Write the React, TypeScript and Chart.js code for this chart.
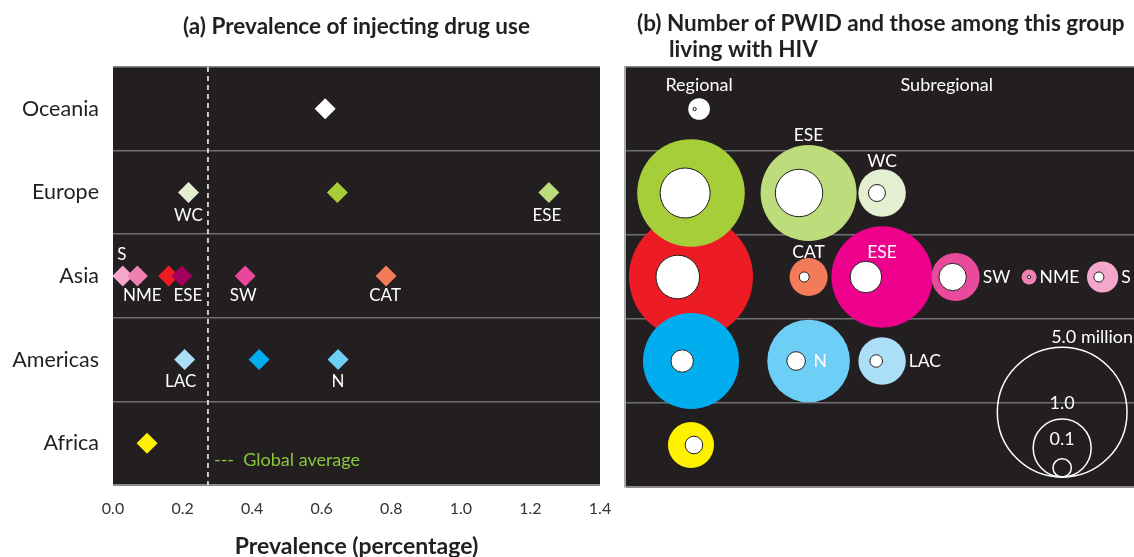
import React, { useEffect, useRef } from 'react';
import { Chart, registerables } from 'chart.js';

Chart.register(...registerables);

const FONT = 'Lato, "Open Sans", sans-serif';
const PANEL_BG = '#231f20';
const GRID_INNER = '#707072';
const GRID_EDGE = '#8a8a8c';
const TEXT_DARK = '#231f20';

// ---------- shared categories ----------
const REGIONS = ['Oceania', 'Europe', 'Asia', 'Americas', 'Africa'];

// ---------- panel (a): prevalence of injecting drug use ----------
const X_TICKS = [0, 0.2, 0.4, 0.6, 0.8, 1.0, 1.2, 1.4];
const GLOBAL_AVERAGE = 0.273;
const PREV_REGION = ['Oceania', 'Europe', 'Europe', 'Europe', 'Asia', 'Asia', 'Asia', 'Asia', 'Asia', 'Asia', 'Americas', 'Americas', 'Americas', 'Africa'];
const PREV_VALUE = [0.61, 0.217, 0.645, 1.253, 0.028, 0.07, 0.16, 0.198, 0.38, 0.785, 0.206, 0.42, 0.647, 0.098];
const PREV_LABEL = ['', 'WC', '', 'ESE', 'S', 'NME', '', 'ESE', 'SW', 'CAT', 'LAC', '', 'N', ''];
// styles / label layout (kept apart from the data)
const PREV_COLOR = ['#ffffff', '#e3efd0', '#a6ce39', '#bddc7c', '#f4a7cb', '#ef80b2', '#ed1c24', '#a3005e', '#e8489a', '#f47b5a', '#abdff8', '#00aeef', '#6dcff6', '#fff200'];
const PREV_LABEL_DX = [0, 0, 0, -2, -1, 5, 0, 6, -2, -1, -4, 0, 0, 0];
const PREV_LABEL_DY = [0, 23, 0, 23, -21, 20, 0, 20, 20, 20, 22, 0, 22, 0];

// ---------- panel (b): number of PWID and those living with HIV (millions) ----------
const PWID_REGION = ['Oceania', 'Europe', 'Europe', 'Europe', 'Asia', 'Asia', 'Asia', 'Asia', 'Asia', 'Asia', 'Americas', 'Americas', 'Americas', 'Africa'];
const PWID_LABEL = ['', '', 'ESE', 'WC', '', 'CAT', 'ESE', 'SW', 'NME', 'S', '', 'N', 'LAC', ''];
const PWID_TOTAL = [0.139, 3.44, 2.74, 0.67, 4.57, 0.43, 3.05, 0.69, 0.067, 0.29, 2.74, 2.03, 0.67, 0.63];
const PWID_HIV = [0.003, 0.743, 0.668, 0.086, 0.565, 0.03, 0.297, 0.223, 0.003, 0.03, 0.149, 0.103, 0.047, 0.092];
// column positions (0 = regional column, 1.6.. = subregional columns)
const PWID_X = [0.11, 0, 1.6, 2.6, 0, 1.6, 2.6, 3.6, 4.6, 5.6, 0, 1.6, 2.6, 0];
const HIV_X = [0.05, -0.08, 1.47, 2.53, -0.18, 1.54, 2.38, 3.56, 4.6, 5.55, -0.12, 1.43, 2.52, 0.04];
const PWID_COLOR = ['#ffffff', '#a6ce39', '#bddc7c', '#e3efd0', '#ed1c24', '#f47b5a', '#ec008c', '#ea4a9c', '#ef80b2', '#f4a7cb', '#00aeef', '#6dcff6', '#abdff8', '#fff200'];
// label layout: mode and offsets
const PWID_LABEL_MODE = ['', '', 'above', 'above', '', 'above', 'inside', 'right', 'right', 'right', '', 'inner', 'right', ''];
const PWID_LABEL_GAP = [0, 0, 10, 8, 0, 6, -25, 3, 3, 3, 0, 8, 3, 0];
const HEADERS = ['Regional', 'Subregional'];
const HEADER_X = [0.11, 3.48];
const LEGEND_VALUES = [5, 1, 0.1];
const LEGEND_LABELS = ['5.0 million', '1.0', '0.1'];
const LEGEND_X = 5.05;
const LEGEND_LABEL_DY = [-10, -16, -19];

const PX_PER_SQRT_MILLION = 29;
const radiusFor = (v: number) => PX_PER_SQRT_MILLION * Math.sqrt(v);

const gridColor = (ctx: any) => (ctx.index === 0 || ctx.index === undefined ? GRID_EDGE : GRID_INNER);
const gridWidth = (ctx: any) => (ctx.index === undefined ? 2 : 1.5);

const fillPanel = {
  id: 'fillPanel',
  beforeDraw(chart: any) {
    const { ctx, chartArea: a } = chart;
    ctx.save();
    ctx.fillStyle = PANEL_BG;
    ctx.fillRect(a.left, a.top, a.right - a.left, a.bottom - a.top);
    ctx.restore();
  },
};

const panelAExtras = {
  id: 'panelAExtras',
  beforeDatasetsDraw(chart: any) {
    const { ctx, chartArea: a, scales } = chart;
    const x = scales.x.getPixelForValue(GLOBAL_AVERAGE);
    ctx.save();
    ctx.strokeStyle = '#ffffff';
    ctx.lineWidth = 1.5;
    ctx.setLineDash([5, 4]);
    ctx.beginPath();
    ctx.moveTo(x, a.top);
    ctx.lineTo(x, a.bottom);
    ctx.stroke();
    ctx.setLineDash([]);
    ctx.fillStyle = '#8cc63f';
    ctx.font = `18px ${FONT}`;
    ctx.textAlign = 'left';
    ctx.textBaseline = 'middle';
    ctx.fillText('---  Global average', x + 6, a.bottom - 25);
    ctx.restore();
  },
  afterDatasetsDraw(chart: any) {
    const { ctx } = chart;
    const meta = chart.getDatasetMeta(0);
    ctx.save();
    ctx.fillStyle = '#ffffff';
    ctx.font = `17px ${FONT}`;
    ctx.textAlign = 'center';
    ctx.textBaseline = 'middle';
    PREV_LABEL.forEach((t, i) => {
      if (!t) return;
      const el = meta.data[i];
      ctx.fillText(t, el.x + PREV_LABEL_DX[i], el.y + PREV_LABEL_DY[i]);
    });
    ctx.restore();
  },
};

const panelBExtras = {
  id: 'panelBExtras',
  afterDraw(chart: any) {
    const { ctx, chartArea: a, scales } = chart;
    const xs = scales.x;
    const ys = scales.y;
    ctx.save();
    // title
    ctx.fillStyle = TEXT_DARK;
    ctx.font = `bold 22.5px ${FONT}`;
    ctx.textAlign = 'left';
    ctx.textBaseline = 'middle';
    ctx.fillText('(b) Number of PWID and those among this group', a.left + 12, 24);
    ctx.fillText('living with HIV', a.left + 44, 50);
    // headers
    ctx.fillStyle = '#ffffff';
    ctx.font = `18px ${FONT}`;
    ctx.textAlign = 'center';
    HEADERS.forEach((h, i) => ctx.fillText(h, xs.getPixelForValue(HEADER_X[i]), a.top + 18));
    // bubble labels
    ctx.font = `17.5px ${FONT}`;
    PWID_LABEL.forEach((t, i) => {
      if (!t) return;
      const cx = xs.getPixelForValue(PWID_X[i]);
      const cy = ys.getPixelForValue(REGIONS.indexOf(PWID_REGION[i]));
      const r = radiusFor(PWID_TOTAL[i]);
      const mode = PWID_LABEL_MODE[i];
      const g = PWID_LABEL_GAP[i];
      if (mode === 'above') {
        ctx.textAlign = 'center';
        ctx.fillText(t, cx, cy - r - g);
      } else if (mode === 'inside') {
        ctx.textAlign = 'center';
        ctx.fillText(t, cx, cy + g);
      } else if (mode === 'right') {
        ctx.textAlign = 'left';
        ctx.fillText(t, cx + r + g, cy);
      } else if (mode === 'inner') {
        const ix = xs.getPixelForValue(HIV_X[i]);
        ctx.textAlign = 'left';
        ctx.fillText(t, ix + radiusFor(PWID_HIV[i]) + g, cy);
      }
    });
    // size legend
    ctx.font = `18px ${FONT}`;
    const lx = xs.getPixelForValue(LEGEND_X);
    const base = a.bottom - 10;
    ctx.strokeStyle = '#ffffff';
    ctx.lineWidth = 1.5;
    LEGEND_VALUES.forEach((v, i) => {
      const r = radiusFor(v);
      ctx.beginPath();
      ctx.arc(lx, base - r, r, 0, Math.PI * 2);
      ctx.stroke();
      const top = base - 2 * r;
      if (i === 0) {
        ctx.textAlign = 'left';
        ctx.fillText(LEGEND_LABELS[i], lx - 11, top + LEGEND_LABEL_DY[i]);
      } else {
        ctx.textAlign = 'center';
        ctx.fillText(LEGEND_LABELS[i], lx, top + LEGEND_LABEL_DY[i]);
      }
    });
    ctx.restore();
  },
};

function PanelA() {
  const ref = useRef<HTMLCanvasElement>(null);
  useEffect(() => {
    const chart = new Chart(ref.current as HTMLCanvasElement, {
      type: 'scatter',
      data: {
        datasets: [
          {
            data: PREV_VALUE.map((v, i) => ({ x: v, y: PREV_REGION[i] })) as any,
            pointStyle: 'rectRot',
            pointRadius: 10.5,
            pointHoverRadius: 10.5,
            pointBackgroundColor: PREV_COLOR,
            pointBorderWidth: 0,
            borderWidth: 0,
          },
        ],
      },
      options: {
        responsive: false,
        animation: false,
        events: [],
        layout: { autoPadding: false, padding: { left: 0, right: 20, top: 0, bottom: 0 } },
        plugins: {
          legend: { display: false },
          tooltip: { enabled: false },
          title: {
            display: true,
            text: '(a) Prevalence of injecting drug use',
            color: TEXT_DARK,
            font: { family: FONT, size: 22.5, weight: 'bold' },
            padding: { top: 13, bottom: 27 },
            fullSize: false,
          },
        },
        scales: {
          x: {
            type: 'linear',
            min: X_TICKS[0],
            max: X_TICKS[X_TICKS.length - 1],
            afterBuildTicks: (s: any) => {
              s.ticks = X_TICKS.map((v) => ({ value: v }));
            },
            afterFit: (s: any) => {
              s.height = 72;
              s.paddingLeft = 0;
              s.paddingRight = 0;
            },
            ticks: {
              color: '#333333',
              font: { family: FONT, size: 16 },
              padding: 14,
              callback: (v: any) => Number(v).toFixed(1),
            },
            grid: { display: false, drawTicks: false },
            border: { display: false },
            title: {
              display: true,
              text: 'Prevalence (percentage)',
              color: TEXT_DARK,
              font: { family: FONT, size: 23, weight: 'bold', lineHeight: 0.9 },
              padding: { top: 0, bottom: 0 },
            },
          },
          y: {
            type: 'category',
            labels: REGIONS,
            offset: true,
            afterFit: (s: any) => {
              s.width = 113;
              s.paddingTop = 0;
              s.paddingBottom = 0;
            },
            ticks: { color: TEXT_DARK, font: { family: FONT, size: 21.5 }, padding: 14 },
            grid: { offset: true, drawTicks: false, color: gridColor, lineWidth: gridWidth },
            border: { display: false },
          },
        },
      } as any,
      plugins: [fillPanel, panelAExtras],
    });
    return () => chart.destroy();
  }, []);
  return <canvas ref={ref} width={620} height={557} style={{ position: 'absolute', left: 0, top: 0 }} />;
}

function PanelB() {
  const ref = useRef<HTMLCanvasElement>(null);
  useEffect(() => {
    // larger bubbles first so that smaller ones sit on top
    const order = PWID_TOTAL.map((_, i) => i).sort((p, q) => PWID_TOTAL[q] - PWID_TOTAL[p]);
    const outer = order.map((i) => ({ x: PWID_X[i], y: PWID_REGION[i], r: radiusFor(PWID_TOTAL[i]) }));
    const inner = PWID_HIV.map((v, i) => ({ x: HIV_X[i], y: PWID_REGION[i], r: radiusFor(v) }));
    const pxPerUnit = 73.5;
    const areaWidth = 535;
    const xMin = -(691 - 625) / pxPerUnit;
    const chart = new Chart(ref.current as HTMLCanvasElement, {
      type: 'bubble',
      data: {
        datasets: [
          {
            data: inner as any,
            backgroundColor: '#ffffff',
            borderColor: PANEL_BG,
            borderWidth: 1,
            order: 1,
          },
          {
            data: outer as any,
            backgroundColor: order.map((i) => PWID_COLOR[i]),
            borderWidth: 0,
            order: 2,
          },
        ],
      },
      options: {
        responsive: false,
        animation: false,
        events: [],
        layout: { autoPadding: false, padding: { left: 25, right: 0, top: 67, bottom: 70 } },
        plugins: { legend: { display: false }, tooltip: { enabled: false } },
        scales: {
          x: { type: 'linear', display: false, min: xMin, max: xMin + areaWidth / pxPerUnit },
          y: {
            type: 'category',
            labels: REGIONS,
            offset: true,
            ticks: { display: false },
            grid: { offset: true, drawTicks: false, color: gridColor, lineWidth: gridWidth },
            border: { display: true, color: '#a7a9ac', width: 2 },
          },
        },
      } as any,
      plugins: [fillPanel, panelBExtras],
    });
    return () => chart.destroy();
  }, []);
  return <canvas ref={ref} width={560} height={557} style={{ position: 'absolute', left: 600, top: 0 }} />;
}

export default function App() {
  return (
    <div
      style={{
        position: 'fixed',
        left: 0,
        top: 0,
        width: 1134,
        height: 557,
        overflow: 'hidden',
        background: '#ffffff',
      }}
    >
      <PanelA />
      <PanelB />
    </div>
  );
}
